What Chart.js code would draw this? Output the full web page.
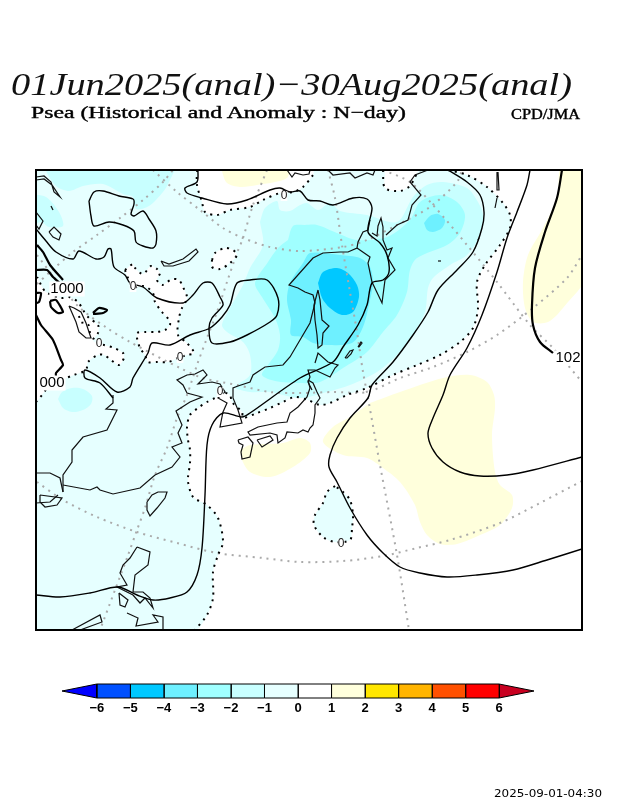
<!DOCTYPE html>
<html>
<head>
<meta charset="utf-8">
<title>Psea anomaly</title>
<script src="https://cdn.jsdelivr.net/npm/chart.js@4"></script>
<style>
html, body { margin: 0; padding: 0; background: #fff; }
#page { position: relative; width: 618px; height: 800px; overflow: hidden; }
#page canvas { position: absolute; left: 0; }
.txt { position: absolute; white-space: nowrap; color: #000; line-height: 1; transform-origin: left center; }
#title { left: 11px; top: 66px; font: italic 32px "Liberation Serif"; color: #111; }
#sub { left: 31px; top: 103px; font: 17px "Liberation Serif"; -webkit-text-stroke: 0.4px #000; }
#org { left: 511px; top: 107px; font: 14px "Liberation Serif"; -webkit-text-stroke: 0.4px #000; }
#stamp { left: 494px; top: 788px; font: 10px "DejaVu Sans"; }
</style>
</head>
<body>
<div id="page">
  <canvas id="mapChart" width="618" height="800" style="top:0"></canvas>
  <canvas id="barChart" width="618" height="60" style="top:660px"></canvas>
  <div class="txt" id="title" data-w="561">01Jun2025(anal)−30Aug2025(anal)</div>
  <div class="txt" id="sub" data-w="375">Psea (Historical and Anomaly : N−day)</div>
  <div class="txt" id="org" data-w="69">CPD/JMA</div>
  <div class="txt" id="stamp" data-w="108">2025-09-01-04:30</div>
</div>
<script>
// colour scale
const barLevels = [-6, -5, -4, -3, -2, -1, 0, 1, 2, 3, 4, 5, 6];
const barColors = ["#0050ff", "#00c8ff", "#6ef0ff", "#a0ffff", "#c8ffff", "#e6ffff", "#ffffff", "#ffffdc", "#ffe600", "#ffb400", "#ff5000", "#ff0000"];
const barLowColor = "#0000ff";
const barHighColor = "#c80020";

// zero anomaly contour, map units
const zeroTopA = [[197,170],[197,185],[202,202],[205,212],[217,215],[230,210],[250,207],[263,200],[280,193],[293,192],[303,187],[313,175],[315,170]];
const zeroTopB = [[383,170],[385,188],[400,191],[410,186],[415,177],[420,170]];
const zeroEast = [[448,170],[467,175],[487,187],[503,203],[510,215],[510,228],[500,245],[485,265],[477,282],[478,308],[473,328],[460,342],[440,355],[417,365],[393,375],[367,388],[347,395],[330,403],[320,405],[308,400],[295,397],[283,402],[270,408],[257,413],[243,418],[242,412],[232,402],[230,395],[225,393],[215,398],[207,402],[198,408],[190,415],[187,427],[188,440],[190,450],[190,463],[188,477],[188,482],[193,497],[207,505],[218,518],[223,542],[218,555],[213,572],[213,598],[207,615],[195,630]];
const zeroWest = [[36,278],[38,278],[41,285],[46,292],[61,298],[69,297],[78,302],[83,310],[89,318],[98,325],[98,333],[93,340],[99,344],[104,345],[114,348],[123,353],[124,358],[119,365],[111,360],[104,355],[98,355],[88,362],[86,370],[74,375],[66,378],[50,385],[42,395],[36,402]];
const zeroLake = [[79,316],[81,322],[88,324],[90,333]];
const zeroInland = [[125,270],[133,264],[135,268],[143,274],[151,266],[157,269],[160,273],[157,280],[162,285],[167,282],[173,279],[179,280],[183,287],[187,297],[185,303],[182,308],[179,318],[178,335],[187,343],[194,353],[187,355],[178,358],[168,362],[157,362],[148,362],[145,355],[140,348],[137,338],[137,333],[145,332],[157,332],[165,330],[170,325],[169,320],[162,312],[155,302],[153,293],[148,288],[143,286],[133,287],[128,278],[125,270]];
const zeroOval = [[212,260],[215,253],[225,248],[233,250],[237,255],[230,263],[220,269],[212,267],[212,260]];
const zeroIsland = [[335,486],[327,492],[323,503],[315,515],[314,525],[323,537],[335,542],[350,540],[352,528],[353,515],[350,500],[343,492],[335,486]];

// anomaly shading
const minus2Top = [[46,165],[46,171],[56,186],[69,191],[83,186],[103,184],[123,194],[133,197],[136,209],[149,206],[163,192],[169,182],[174,165],[46,165]];
const minus2Left = [[30,194],[46,197],[59,212],[63,226],[49,227],[41,222],[30,226],[30,194]];
const minus2Spot = [[58,399],[62,392],[72,388],[83,389],[92,396],[91,404],[83,410],[72,412],[63,408],[58,399]];
const minus2Main = [[260,222],[265,208],[277,201],[280,210],[290,211],[300,205],[307,203],[318,210],[330,203],[340,211],[367,215],[397,222],[413,197],[427,185],[443,182],[467,188],[478,202],[483,215],[480,235],[467,255],[450,265],[433,278],[428,288],[425,312],[413,335],[397,355],[377,372],[350,385],[327,392],[300,398],[270,392],[250,392],[235,387],[250,375],[250,355],[243,342],[227,332],[222,325],[230,308],[243,285],[250,268],[263,245],[260,222]];
const minus3Main = [[288,240],[293,226],[305,225],[317,225],[337,233],[357,240],[387,237],[410,220],[420,202],[440,195],[457,202],[465,215],[460,233],[447,245],[417,258],[410,270],[407,292],[397,315],[383,332],[367,352],[343,368],[320,382],[300,383],[275,381],[262,375],[268,365],[278,350],[280,335],[275,318],[262,297],[255,283],[268,262],[278,248],[288,240]];
const minus4Main = [[303,263],[310,253],[340,255],[360,258],[370,267],[373,283],[370,300],[363,327],[352,343],[327,345],[313,343],[303,337],[291,335],[291,320],[287,300],[290,283],[303,263]];
const minus4Kamchatka = [[424,223],[430,216],[438,214],[445,220],[442,228],[433,232],[427,230],[424,223]];
const minus5Main = [[318,283],[323,272],[337,268],[348,273],[357,285],[359,297],[353,312],[342,315],[330,308],[322,298],[318,283]];
const plus1Top = [[222,165],[222,171],[227,183],[240,187],[257,185],[287,178],[287,165],[222,165]];
const plus1East = [[590,165],[562,165],[557,198],[543,228],[528,255],[523,282],[525,308],[533,322],[548,322],[563,308],[590,270],[590,165]];
const plus1Ocean = [[370,403],[400,392],[443,378],[470,375],[487,382],[494,395],[495,408],[492,435],[495,472],[500,485],[512,495],[512,508],[500,525],[480,535],[457,544],[440,544],[427,535],[420,522],[415,505],[400,482],[383,468],[367,458],[343,455],[323,442],[333,427],[350,417],[370,403]];
const plus1Japan = [[240,450],[250,445],[283,443],[300,438],[310,443],[310,453],[293,467],[270,477],[250,472],[242,460],[240,450]];

// pressure contours
const isoOuter = [[448,170],[467,182],[480,195],[484,212],[482,228],[473,252],[457,270],[438,290],[428,312],[413,335],[393,362],[372,385],[368,398],[350,418],[337,438],[330,455],[329,467],[337,482],[350,508],[367,535],[383,553],[400,567],[420,573],[447,577],[477,575],[513,570],[547,560],[582,549]];
const isoMiddle = [[530,170],[527,185],[517,212],[507,238],[497,272],[482,315],[467,348],[450,375],[443,395],[433,418],[428,433],[432,448],[443,462],[460,472],[480,476],[507,475],[533,470],[582,457]];
const isoHigh = [[562,170],[557,198],[545,232],[535,268],[532,305],[533,325],[540,342],[553,353]];
const isoCoastal = [[36,595],[60,597],[90,593],[118,587],[137,595],[153,600],[170,598],[187,592],[197,575],[202,548],[205,495],[207,445],[212,425],[223,413],[242,417],[250,413],[300,378],[333,362],[343,347],[358,325],[367,305],[372,283],[383,280],[389,272],[387,255],[380,243],[368,232],[372,208],[367,199],[353,198],[333,205],[320,201],[308,200],[300,191],[290,192],[280,188],[270,190],[247,200],[227,204],[202,198],[187,193],[185,188],[197,182],[198,170]];
const isoBlob = [[89,201],[94,192],[103,191],[119,196],[133,199],[134,204],[131,214],[134,216],[143,211],[149,219],[156,231],[156,244],[153,248],[143,246],[136,242],[134,231],[123,225],[109,222],[94,226],[91,216],[89,201]];
const isoLong = [[36,229],[46,241],[56,252],[73,259],[79,251],[96,259],[104,257],[108,249],[111,249],[114,267],[125,275],[130,283],[143,287],[157,298],[183,303],[193,295],[203,283],[212,283],[220,297],[223,305],[212,318],[209,328],[212,343],[230,342],[247,335],[270,322],[277,315],[278,298],[267,280],[250,280],[237,283],[230,305],[222,317],[210,328],[190,335],[170,345],[152,343],[148,353],[133,378],[130,387],[117,392],[100,378],[85,370],[85,378],[100,383],[113,398]];
const isoThick = [
  [[37,245],[43,252],[50,265],[63,280]],
  [[36,270],[47,270],[53,277],[62,285]],
  [[50,301],[56,300],[63,312],[58,313],[51,307],[50,301]],
  [[93,313],[99,308],[107,310],[103,313],[93,314]],
  [[36,293],[41,293],[39,302],[36,303]],
  [[36,315],[41,325],[53,340],[61,360],[63,365],[56,373],[56,377]]
];

// coast lines
const coasts = [
  [[113,395],[113,403],[106,409],[117,410],[107,430],[83,437],[72,450],[72,462],[63,475],[63,492]],
  [[63,485],[90,490],[97,487],[100,490],[113,494],[140,488],[155,475],[172,467],[180,457],[172,447],[182,443],[178,433],[182,425],[176,411],[190,402],[202,397],[187,393],[183,385],[177,380],[187,375],[195,374],[203,370],[207,375],[198,384],[212,382],[220,384],[225,392],[218,398],[227,403],[223,412],[220,427],[242,423],[238,410],[233,398],[233,388],[238,386],[250,382],[253,375],[265,367],[283,365],[290,357],[300,340],[310,323],[315,303],[313,295],[305,292],[298,288],[289,285],[313,258],[323,253],[340,252],[348,252],[357,248],[358,242],[363,232],[368,230],[370,220]],
  [[318,290],[314,305],[315,320],[317,335],[318,348],[322,345],[323,333],[329,326],[322,320],[320,300],[318,290]],
  [[357,248],[370,257],[368,263],[372,282],[382,303],[385,280],[395,270],[388,258],[392,248],[387,250],[383,240],[383,227],[381,218],[378,226],[377,236],[372,233]],
  [[386,235],[397,225],[408,220],[412,205],[421,195],[410,182],[415,175],[428,170]],
  [[287,170],[292,177],[295,173],[303,175],[309,174],[310,170]],
  [[328,170],[333,175],[350,173],[355,178],[367,173],[373,175],[375,170]],
  [[308,380],[313,383],[317,392],[320,398],[315,405],[315,413],[313,425],[310,428],[308,432],[303,430],[298,433],[287,432],[285,438],[278,443],[277,435],[270,433],[250,435],[248,432],[258,427],[277,423],[287,422],[290,413],[298,407],[307,397],[310,388],[308,380]],
  [[238,440],[248,437],[253,443],[250,457],[242,459],[241,452],[243,445],[239,443],[238,440]],
  [[257,440],[270,436],[273,440],[262,447],[257,440]],
  [[315,363],[318,353],[328,362],[338,365],[335,368],[330,377],[315,370],[308,370],[310,377],[308,382],[312,390]],
  [[345,358],[350,351],[353,350],[351,354],[347,358],[345,358]],
  [[358,347],[361,342],[362,343],[359,347],[358,347]],
  [[147,502],[152,495],[158,492],[167,492],[165,498],[157,508],[150,516],[147,510],[147,502]],
  [[137,547],[150,552],[148,565],[135,575],[133,592],[143,592],[150,598],[153,608],[145,598],[140,603],[133,595],[127,592],[117,587],[127,585],[120,573],[123,565],[130,558],[137,547]],
  [[119,593],[128,600],[125,607],[120,605],[119,593]],
  [[127,613],[138,618],[136,626],[158,622],[153,615],[163,617],[163,630]],
  [[72,630],[100,615],[102,622],[80,630]],
  [[36,473],[50,473],[60,478],[63,492]],
  [[40,495],[62,498],[57,505],[45,507],[40,502],[40,495]],
  [[36,503],[50,502],[58,495]],
  [[36,212],[43,221],[39,229],[36,225]],
  [[49,232],[54,227],[61,234],[59,240],[53,237],[49,232]],
  [[51,206],[53,210]],
  [[36,177],[44,176],[51,182],[54,192],[60,197],[52,185],[44,179],[36,180]],
  [[161,261],[169,264],[183,259],[196,249],[198,252],[189,261],[173,266],[164,266],[161,261]],
  [[69,306],[74,308],[81,312],[86,323],[91,338],[86,338],[79,332],[76,322],[69,306]],
  [[438,261],[441,261]],
  [[478,240],[479,238]],
  [[498,172],[499,190],[497,190],[497,172]],
  [[497,198],[495,208]]
];

// graticule
const graticule = [
  [[37,284],[50,272],[73,252],[97,235],[120,218],[143,200],[163,182],[173,170]],
  [[153,170],[177,192],[200,210],[223,228],[243,238],[270,247],[300,251],[343,247],[367,240],[397,225],[430,207],[457,182],[462,170]],
  [[267,170],[253,205],[243,238],[237,253],[227,282],[217,312],[207,338],[197,365],[187,395],[177,418],[167,448],[155,475],[145,508],[137,530],[127,558],[115,590],[103,622],[100,630]],
  [[328,170],[335,198],[342,245],[350,292],[357,332],[363,372],[368,398],[380,465],[397,555],[409,630]],
  [[383,170],[410,182],[433,205],[467,245],[497,282],[530,325],[553,348],[582,382]],
  [[37,255],[60,285],[80,308],[107,328],[130,342],[180,368],[203,378],[237,385],[270,392],[300,393],[333,392],[367,392],[400,378],[433,367],[467,352],[497,335],[533,308],[567,278],[582,255]],
  [[37,482],[63,500],[97,517],[137,532],[177,543],[217,553],[263,558],[300,562],[343,561],[383,556],[417,548],[450,540],[500,523],[540,503],[582,481]]
];

// contour labels
const labelTexts = ["1000", "000", "102", "0", "0", "0", "0", "0", "0"];
const labelXs = [67, 52, 568, 133, 99, 180, 220, 284, 341];
const labelYs = [289, 383, 358, 287, 344, 358, 392, 196, 544];

const toPoints = arr => arr.map(p => ({ x: p[0], y: p[1] }));

const layers = [];
function shade(arr, color) {
    layers.push({
        data: toPoints(arr),
        showLine: true,
        pointRadius: 0,
        borderWidth: 0,
        backgroundColor: color,
        fill: "shape",
        tension: 0.3
    });
}
function stroke(arr, width, color, dash, tension) {
    layers.push({
        data: toPoints(arr),
        showLine: true,
        pointRadius: 0,
        borderWidth: width,
        borderColor: color,
        borderDash: dash || [],
        fill: false,
        tension: tension || 0
    });
}

const pale = "#e6ffff";
const corner = [[30, 164]];
shade(corner.concat(zeroTopA, zeroTopB, zeroEast, [[30, 636], [30, 164]]), pale);
shade(zeroWest.concat([[30, 402], [30, 278], [36, 278]]), "#ffffff");
shade(zeroInland, "#ffffff");
shade(zeroOval, "#ffffff");
shade(zeroIsland, pale);
[minus2Top, minus2Left, minus2Spot, minus2Main].forEach(a => shade(a, "#c8ffff"));
shade(minus3Main, "#a0ffff");
[minus4Main, minus4Kamchatka].forEach(a => shade(a, "#6ef0ff"));
shade(minus5Main, "#00c8ff");
[plus1Top, plus1East, plus1Ocean, plus1Japan].forEach(a => shade(a, "#ffffdc"));

graticule.forEach(a => stroke(a, 2, "#aaaaaa", [2, 5], 0.3));
coasts.forEach(a => stroke(a, 1.2, "#111111"));
[zeroTopA, zeroTopB, zeroEast, zeroWest, zeroLake, zeroInland, zeroOval, zeroIsland].forEach(a => stroke(a, 2, "#000000", [2, 5], 0.3));
[isoOuter, isoMiddle, isoCoastal, isoBlob, isoLong].forEach(a => stroke(a, 1.4, "#000000", [], 0.3));
stroke(isoHigh, 2.2, "#000000", [], 0.3);
isoThick.forEach(a => stroke(a, 2.2, "#000000", [], 0.2));

// map frame on the scale limits
const frame = [[36, 170], [582, 170], [582, 630], [36, 630], [36, 170]];
layers.push({ data: toPoints(frame), showLine: true, pointRadius: 0, borderWidth: 2, borderColor: "#000", fill: false, clip: false, borderCapStyle: "square" });

const contourLabels = {
    id: "contourLabels",
    afterDatasetsDraw(chart) {
        const { ctx, scales, chartArea } = chart;
        ctx.save();
        ctx.beginPath();
        ctx.rect(chartArea.left + 1, chartArea.top, chartArea.width - 2, chartArea.height);
        ctx.clip();
        ctx.textAlign = "center";
        ctx.textBaseline = "middle";
        labelTexts.forEach((t, i) => {
            ctx.font = (t.length > 1 ? 15 : 12) + 'px "Liberation Sans"';
            const px = scales.x.getPixelForValue(labelXs[i]);
            const py = scales.y.getPixelForValue(labelYs[i]);
            const w = ctx.measureText(t).width + (t.length > 1 ? 2 : 0);
            const h = t.length > 1 ? 15 : 10;
            ctx.fillStyle = "#fff";
            ctx.fillRect(px - w / 2, py - h / 2, w, h);
            ctx.fillStyle = t.length > 1 ? "#000" : "#222";
            ctx.fillText(t, px, py);
        });
        ctx.restore();
    }
};

new Chart(document.getElementById("mapChart"), {
    type: "scatter",
    data: { datasets: layers.reverse() },
    plugins: [contourLabels],
    options: {
        responsive: false,
        animation: false,
        devicePixelRatio: 1,
        layout: { padding: { left: 36, right: 36, top: 170, bottom: 170 } },
        plugins: { legend: { display: false }, tooltip: { enabled: false }, title: { display: false } },
        scales: {
            x: { type: "linear", min: 36, max: 582, display: false },
            y: { type: "linear", min: 170, max: 630, reverse: true, display: false }
        }
    }
});

// colour bar
const barSets = [];
function barShape(points, color) {
    barSets.push({
        data: points,
        showLine: true,
        pointRadius: 0,
        borderWidth: 1,
        borderColor: "#000",
        backgroundColor: color,
        fill: "shape",
        clip: false
    });
}
barColors.forEach((c, i) => {
    const lo = barLevels[i], hi = barLevels[i + 1];
    barShape([{ x: lo, y: 0 }, { x: hi, y: 0 }, { x: hi, y: 1 }, { x: lo, y: 1 }, { x: lo, y: 0 }], c);
});
barShape([{ x: -6, y: 0 }, { x: -7.04, y: 0.5 }, { x: -6, y: 1 }, { x: -6, y: 0 }], barLowColor);
barShape([{ x: 6, y: 0 }, { x: 7.04, y: 0.5 }, { x: 6, y: 1 }, { x: 6, y: 0 }], barHighColor);

new Chart(document.getElementById("barChart"), {
    type: "scatter",
    data: { datasets: barSets },
    options: {
        responsive: false,
        animation: false,
        devicePixelRatio: 1,
        layout: { padding: { left: 62, right: 84, top: 24, bottom: 0 } },
        plugins: { legend: { display: false }, tooltip: { enabled: false } },
        scales: {
            x: {
                type: "linear",
                min: -7.04,
                max: 7.04,
                afterBuildTicks(scale) { scale.ticks = barLevels.map(v => ({ value: v })); },
                afterFit(scale) { scale.height = 22; },
                grid: { display: false, drawTicks: false },
                border: { display: false },
                ticks: {
                    padding: 3,
                    maxRotation: 0,
                    autoSkip: false,
                    color: "#000",
                    font: { family: "Liberation Sans", weight: "bold", size: 13 },
                    callback: v => (v < 0 ? "−" + Math.abs(v) : String(v))
                }
            },
            y: { type: "linear", min: 0, max: 1, display: false }
        }
    }
});

// stretch headings to their widths in the plot
document.querySelectorAll(".txt").forEach(el => {
    const span = document.createElement("span");
    span.textContent = el.textContent;
    el.textContent = "";
    el.appendChild(span);
    const ratio = Number(el.dataset.w) / span.getBoundingClientRect().width;
    el.style.transform = "scaleX(" + ratio + ")";
});
</script>
</body>
</html>
